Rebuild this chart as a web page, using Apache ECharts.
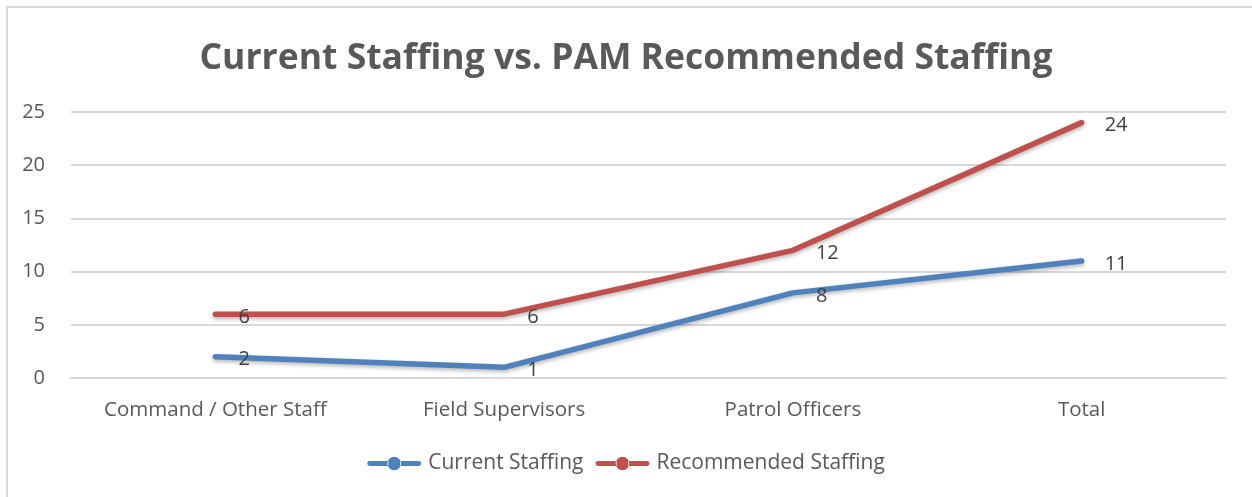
<!DOCTYPE html>
<html>
<head>
<meta charset="utf-8">
<script src="https://cdn.jsdelivr.net/npm/echarts@6/dist/echarts.min.js"></script>
<style>
  html, body { margin: 0; padding: 0; background: #fff; }
  #chart { width: 1252px; height: 497px; }
</style>
</head>
<body>
<div id="chart"></div>
<script>
// data
const categories = ['Command / Other Staff', 'Field Supervisors', 'Patrol Officers', 'Total'];
const currentStaffing = [2, 1, 8, 11];
const recommendedStaffing = [6, 6, 12, 24];
const yTicks = { min: 0, max: 25, interval: 5 };

const FONT = '"Open Sans", "Liberation Sans", sans-serif';
// legend marker: thick line with a ball in the middle
const LEGEND_ICON = 'path://M2,5.5 H21 V10.5 H2 A2.5,2.5 0 0,1 2,5.5 Z' +
  ' M33,5.5 H52 A2.5,2.5 0 0,1 52,10.5 H33 Z' +
  ' M20,8 A7,7 0 1,0 34,8 A7,7 0 1,0 20,8 Z';

const chart = echarts.init(document.getElementById('chart'));

function lineSeries(name, data, color) {
  return {
    name: name,
    type: 'line',
    data: data,
    symbol: 'circle',
    symbolSize: 0,
    showSymbol: true,
    itemStyle: { color: color },
    lineStyle: {
      width: 5.5,
      color: color,
      cap: 'round',
      shadowBlur: 4,
      shadowColor: 'rgba(0,0,0,0.3)',
      shadowOffsetY: 2
    },
    label: {
      show: true,
      position: 'right',
      distance: 23,
      offset: [0, 3],
      color: '#404040',
      fontSize: 20,
      fontFamily: FONT
    },
    emphasis: { disabled: true }
  };
}

chart.setOption({
  backgroundColor: '#fff',
  animation: false,
  title: {
    text: 'Current Staffing vs. PAM Recommended Staffing',
    left: 'center',
    top: 36,
    textStyle: { color: '#595959', fontSize: 35.5, fontWeight: 'bold', fontFamily: FONT }
  },
  graphic: [{
    type: 'rect',
    shape: { x: 7, y: 7, width: 1270, height: 520 },
    style: { fill: 'none', stroke: '#d9d9d9', lineWidth: 2 },
    silent: true
  }],
  grid: { left: 71, right: 26, top: 112, bottom: 119 },
  legend: {
    bottom: 18,
    left: 'center',
    itemWidth: 54,
    itemHeight: 16,
    itemGap: 12,
    textStyle: { color: '#595959', fontSize: 21, fontFamily: FONT, padding: [0, 0, 0, 2] },
    data: [
      { name: 'Current Staffing', icon: LEGEND_ICON },
      { name: 'Recommended Staffing', icon: LEGEND_ICON }
    ]
  },
  xAxis: {
    type: 'category',
    data: categories,
    axisLine: { lineStyle: { color: '#d9d9d9', width: 2 } },
    axisTick: { show: false },
    axisLabel: { color: '#595959', fontSize: 20.5, fontFamily: FONT, margin: 22, interval: 0 }
  },
  yAxis: {
    type: 'value',
    min: yTicks.min,
    max: yTicks.max,
    interval: yTicks.interval,
    axisLine: { show: false },
    axisTick: { show: false },
    axisLabel: { color: '#595959', fontSize: 20, fontFamily: FONT, margin: 26 },
    splitLine: { lineStyle: { color: '#d9d9d9', width: 2 } }
  },
  series: [
    lineSeries('Current Staffing', currentStaffing, '#4f81bd'),
    lineSeries('Recommended Staffing', recommendedStaffing, '#c0504d')
  ]
});
</script>
</body>
</html>
